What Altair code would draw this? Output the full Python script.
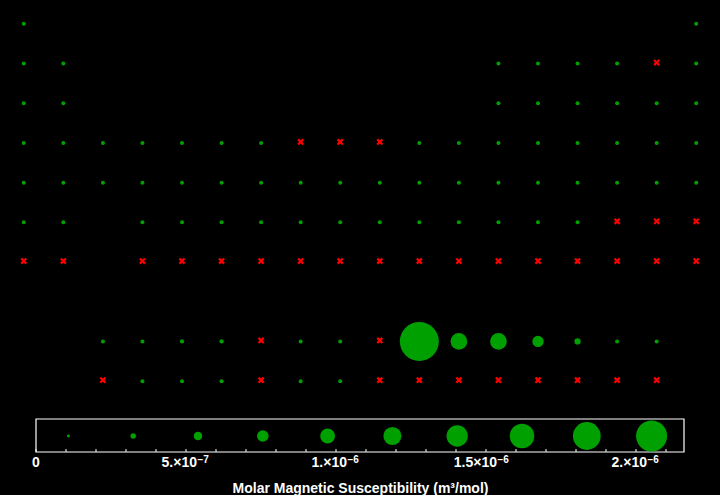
import altair as alt
import pandas as pd

# ---- data: element symbol, group (column), period row (9 = lanthanides, 10 = actinides),
# molar magnetic susceptibility in m^3/mol (None = no value shown, drawn as a red cross)
symbols = [
    "H", "He",
    "Li", "Be", "B", "C", "N", "O", "F", "Ne",
    "Na", "Mg", "Al", "Si", "P", "S", "Cl", "Ar",
    "K", "Ca", "Sc", "Ti", "V", "Cr", "Mn", "Fe", "Co", "Ni", "Cu", "Zn", "Ga", "Ge", "As", "Se", "Br", "Kr",
    "Rb", "Sr", "Y", "Zr", "Nb", "Mo", "Tc", "Ru", "Rh", "Pd", "Ag", "Cd", "In", "Sn", "Sb", "Te", "I", "Xe",
    "Cs", "Ba", "Hf", "Ta", "W", "Re", "Os", "Ir", "Pt", "Au", "Hg", "Tl", "Pb", "Bi", "Po", "At", "Rn",
    "Fr", "Ra", "Rf", "Db", "Sg", "Bh", "Hs", "Mt", "Ds", "Rg", "Cn", "Nh", "Fl", "Mc", "Lv", "Ts", "Og",
    "La", "Ce", "Pr", "Nd", "Pm", "Sm", "Eu", "Gd", "Tb", "Dy", "Ho", "Er", "Tm", "Yb", "Lu",
    "Ac", "Th", "Pa", "U", "Np", "Pu", "Am", "Cm", "Bk", "Cf", "Es", "Fm", "Md", "No", "Lr",
]
groups = [
    1, 18,
    1, 2, 13, 14, 15, 16, 17, 18,
    1, 2, 13, 14, 15, 16, 17, 18,
    1, 2, 3, 4, 5, 6, 7, 8, 9, 10, 11, 12, 13, 14, 15, 16, 17, 18,
    1, 2, 3, 4, 5, 6, 7, 8, 9, 10, 11, 12, 13, 14, 15, 16, 17, 18,
    1, 2, 4, 5, 6, 7, 8, 9, 10, 11, 12, 13, 14, 15, 16, 17, 18,
    1, 2, 4, 5, 6, 7, 8, 9, 10, 11, 12, 13, 14, 15, 16, 17, 18,
    3, 4, 5, 6, 7, 8, 9, 10, 11, 12, 13, 14, 15, 16, 17,
    3, 4, 5, 6, 7, 8, 9, 10, 11, 12, 13, 14, 15, 16, 17,
]
periods = (
    [1] * 2 + [2] * 8 + [3] * 8 + [4] * 18 + [5] * 18 + [6] * 17 + [7] * 17 + [9] * 15 + [10] * 15
)
chi = [
    -5.0e-11, -2.4e-11,
    1.78e-10, -1.13e-10, -8.4e-11, -7.5e-11, -1.5e-10, 4.33e-8, None, -8.5e-11,
    2.0e-10, 1.65e-10, 2.07e-10, -4.9e-11, -3.3e-10, -1.95e-10, -5.1e-10, -2.46e-10,
    2.6e-10, 5.0e-10, 3.96e-9, 1.92e-9, 3.58e-9, 2.1e-9, 6.65e-9, None, None, None,
    -6.9e-11, -1.15e-10, -2.7e-10, -1.46e-10, -7.0e-11, -3.1e-10, -7.1e-10, -3.6e-10,
    2.1e-10, 1.16e-9, 2.36e-9, 1.5e-9, 2.6e-9, 9.0e-10, 3.4e-9, 4.9e-10, 1.28e-9, 7.1e-9,
    -2.45e-10, -2.5e-10, -1.28e-10, -4.6e-10, -1.24e-9, -5.0e-10, -1.1e-9, -5.7e-10,
    3.6e-10, 2.6e-10, 9.4e-10, 1.94e-9, 6.7e-10, 8.4e-10, 1.24e-10, 3.1e-10, 2.4e-9,
    -3.5e-10, -4.2e-10, -6.4e-10, -2.9e-10, -3.5e-9, None, None, None,
    None, None, None, None, None, None, None, None, None, None, None, None, None, None, None, None, None,
    1.2e-9, 3.1e-8, 6.9e-8, 7.5e-8, None, 1.6e-8, 4.0e-8, None, 2.16e-6, 0.90e-6, 0.90e-6, 0.59e-6, 0.27e-6, 8.4e-10, 2.3e-9,
    None, 1.2e-9, 3.3e-9, 4.9e-9, None, 6.4e-9, 1.3e-8, None, None, None, None, None, None, None, None,
]

# legend
legend_values = [1.08e-7, 3.24e-7, 5.40e-7, 7.56e-7, 9.72e-7, 1.188e-6, 1.404e-6, 1.62e-6, 1.836e-6, 2.052e-6]
minor_ticks = [0, 1e-7, 2e-7, 3e-7, 4e-7, 5e-7, 6e-7, 7e-7, 8e-7, 9e-7, 1e-6, 1.1e-6, 1.2e-6, 1.3e-6,
               1.4e-6, 1.5e-6, 1.6e-6, 1.7e-6, 1.8e-6, 1.9e-6, 2.0e-6, 2.1e-6]
label_values = [5e-7, 1e-6, 1.5e-6, 2e-6]
label_mantissas = ["5.×10", "1.×10", "1.5×10", "2.×10"]
label_exponents = ["−7", "−6", "−6", "−6"]
zero_label = ["0"]
legend_max = 2.16e-6

GREEN = "#00a000"
RED = "#ff0000"
FONT = "Liberation Sans"

df = pd.DataFrame({"symbol": symbols, "group": groups, "period": periods, "chi": chi})

W = 712
H_MAIN = 397
H_LEG = 33

xs = alt.Scale(domain=[0.5, 18.5], nice=False, zero=False)
ys = alt.Scale(domain=[0.5, 10.5], nice=False, zero=False, reverse=True)

base = alt.Chart(df).encode(
    x=alt.X("group:Q", scale=xs, axis=None),
    y=alt.Y("period:Q", scale=ys, axis=None),
)

dots = base.transform_filter("isValid(datum.chi)").transform_calculate(
    mag="abs(datum.chi)"
).mark_circle(color=GREEN, opacity=1).encode(
    size=alt.Size("mag:Q", scale=alt.Scale(type="pow", exponent=2, domain=[0, 2.16e-6],
                                          range=[16, 1521], clamp=True), legend=None)
)

crosses = base.transform_filter("!isValid(datum.chi)").mark_point(
    shape="M-1,-1L1,1M-1,1L1,-1", color=RED, strokeWidth=2.2, size=26, filled=False, opacity=1, yOffset=-1
)

main = alt.layer(dots, crosses).properties(width=W, height=H_MAIN)

# ---- legend strip
lx = alt.Scale(domain=[-32 / 300 * 1e-6, (712 - 32) / 300 * 1e-6], nice=False, zero=False)

leg_df = pd.DataFrame({"v": legend_values})
tick_df = pd.DataFrame({"t": minor_ticks})
box_df = pd.DataFrame({"a": [0.0], "b": [legend_max]})
lab_df = pd.DataFrame({"v": label_values, "m": label_mantissas, "e": label_exponents})
zero_df = pd.DataFrame({"v": [0.0], "m": zero_label})

leg_axis = alt.Axis(
    labels=False, ticks=False, domain=False, grid=False,
    title="Molar Magnetic Susceptibility (m³/mol)", titleColor="white", titleFont=FONT,
    titleFontWeight="bold", titleFontSize=14, titlePadding=40, titleBaseline="alphabetic",
)

box = alt.Chart(box_df).mark_rect(fill=None, stroke="white", strokeWidth=1.2).encode(
    x=alt.X("a:Q", scale=lx, axis=leg_axis),
    x2="b:Q",
    y=alt.value(0),
    y2=alt.value(H_LEG),
)

ticks = alt.Chart(tick_df).mark_rule(color="white", strokeWidth=1).encode(
    x=alt.X("t:Q", scale=lx),
    y=alt.value(H_LEG - 3),
    y2=alt.value(H_LEG),
)

leg_circles = alt.Chart(leg_df).mark_circle(color=GREEN, opacity=1).encode(
    x=alt.X("v:Q", scale=lx),
    y=alt.value(H_LEG / 2 + 0.5),
    size=alt.Size("v:Q", scale=alt.Scale(type="pow", exponent=2, domain=[0, 2.052e-6],
                                        range=[6, 961]), legend=None),
)

txt = dict(color="white", font=FONT, fontWeight="bold", baseline="alphabetic")
zero_txt = alt.Chart(zero_df).mark_text(align="center", fontSize=14, **txt).encode(
    x=alt.X("v:Q", scale=lx), y=alt.value(H_LEG + 15), text="m:N"
)
mant_txt = alt.Chart(lab_df).mark_text(align="right", fontSize=14, dx=11, **txt).encode(
    x=alt.X("v:Q", scale=lx), y=alt.value(H_LEG + 15), text="m:N"
)
exp_txt = alt.Chart(lab_df).mark_text(align="left", fontSize=10, dx=11.5, **txt).encode(
    x=alt.X("v:Q", scale=lx), y=alt.value(H_LEG + 10.5), text="e:N"
)

legend = alt.layer(box, ticks, leg_circles, zero_txt, mant_txt, exp_txt).properties(width=W, height=H_LEG)

chart = alt.vconcat(main, legend, spacing=17).resolve_scale(
    x="independent", y="independent", size="independent"
).properties(
    background="black",
    padding={"left": 4, "top": 4, "right": 4, "bottom": 0},
).configure_view(strokeWidth=0)

chart.save("out.html", embed_options={"renderer": "svg", "actions": False})
